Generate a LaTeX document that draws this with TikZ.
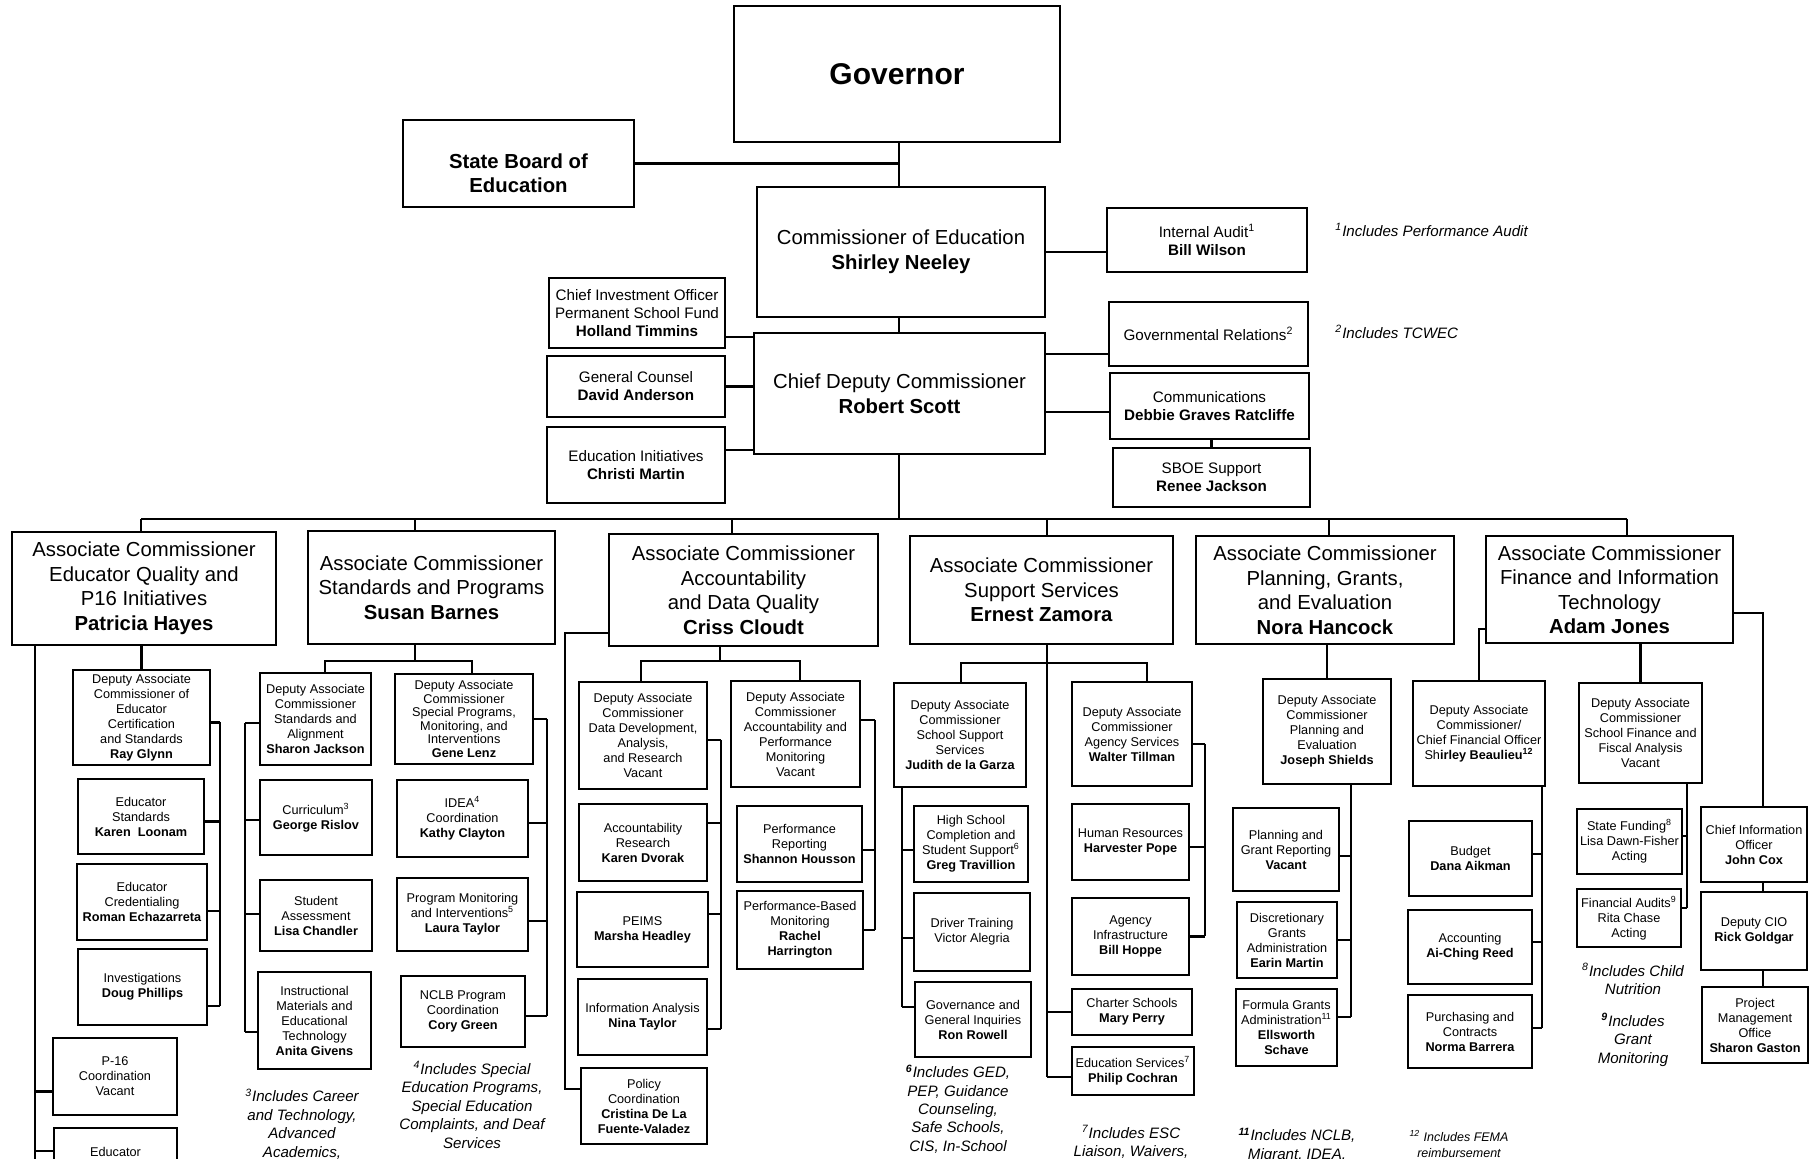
\documentclass[tikz,border=0pt]{standalone}
\usepackage{fontspec}
\setmainfont{Liberation Sans}
\usetikzlibrary{calc}
\tikzset{box/.style={draw, line width=1.1pt, inner sep=1pt, align=center}}
\tikzset{conn/.style={line width=1.1pt}}
\tikzset{govtxt/.style={font=\fontsize{15}{18}\selectfont\bfseries}}
\tikzset{head/.style={font=\fontsize{10.15}{12.25}\selectfont}}
\tikzset{topsm/.style={font=\fontsize{7.6}{9}\selectfont}}
\tikzset{sub/.style={font=\fontsize{6.35}{7.5}\selectfont}}
\tikzset{subt/.style={font=\fontsize{6.35}{6.8}\selectfont}}
\tikzset{note/.style={font=\fontsize{7.55}{9.2}\selectfont\itshape, align=center, inner sep=0pt}}
\tikzset{smallnote/.style={note, font=\fontsize{6.25}{7.6}\selectfont\itshape}}
% box from its corners in pixels: [style]{name}{x1}{y1}{x2}{y2}{text}
\newcommand{\orgbox}[7][sub]{%
  \node[box, #1, minimum width={(#5-#3)*0.5pt}, minimum height={(#6-#4)*0.5pt}]
    (#2) at ({(#3+#5)/2},{(#4+#6)/2}) {#7};}

\begin{document}
\begin{tikzpicture}[x=0.5pt, y=-0.5pt]
  \useasboundingbox (0,0) rectangle (1810,1159);
  \clip (0,0) rectangle (1810,1159);
  \fill[white] (0,0) rectangle (1810,1159);

  % Top
  \orgbox[govtxt]{gov}{734}{6}{1060}{142}{Governor}
  \orgbox[head]{sboe}{403}{120}{634}{207}{\rule{0pt}{16.9pt}\textbf{State Board of}\\\textbf{Education}}
  \orgbox[head]{comm}{757}{187}{1045}{317}{Commissioner of Education\\\textbf{Shirley Neeley}}
  \orgbox[topsm]{audit}{1107}{208}{1307}{272}{Internal Audit\textsuperscript{1}\\\textbf{Bill Wilson}}
  \orgbox[head]{cdc}{754}{333}{1045}{454}{Chief Deputy Commissioner\\\textbf{Robert Scott}}
  \orgbox[topsm]{cio}{549}{278}{725}{348}{Chief Investment Officer\\Permanent School Fund\\\textbf{Holland Timmins}}
  \orgbox[topsm]{counsel}{547}{356}{725}{417}{General Counsel\\\textbf{David Anderson}}
  \orgbox[topsm]{edinit}{547}{427}{725}{503}{Education Initiatives\\\textbf{Christi Martin}}
  \orgbox[topsm]{govrel}{1109}{302}{1308}{366}{Governmental Relations\textsuperscript{2}}
  \orgbox[topsm]{comms}{1110}{373}{1309}{439}{Communications\\\textbf{Debbie Graves Ratcliffe}}
  \orgbox[topsm]{sboesup}{1113}{448}{1310}{507}{SBOE Support\\\textbf{Renee Jackson}}
  \node[note, anchor=west] (fn1) at (1335,230) {\textsuperscript{1}Includes Performance Audit};
  \node[note, anchor=west] (fn2) at (1335,332) {\textsuperscript{2}Includes TCWEC};

  % Associate commissioners
  \orgbox[head]{ac1}{12}{532}{276}{645}{Associate Commissioner\\Educator Quality and\\P16 Initiatives\\\textbf{Patricia Hayes}}
  \orgbox[head]{ac2}{308}{531}{555}{644}{Associate Commissioner\\Standards and Programs\\\textbf{Susan Barnes}}
  \orgbox[head]{ac3}{609}{534}{878}{646}{Associate Commissioner\\Accountability\\and Data Quality\\\textbf{Criss Cloudt}}
  \orgbox[head]{ac4}{910}{536}{1173}{644}{Associate Commissioner\\Support Services\\\textbf{Ernest Zamora}}
  \orgbox[head]{ac5}{1196}{536}{1454}{644}{Associate Commissioner\\Planning, Grants,\\and Evaluation\\\textbf{Nora Hancock}}
  \orgbox[head]{ac6}{1486}{536}{1733}{643}{Associate Commissioner\\Finance and Information\\Technology\\\textbf{Adam Jones}}

  % Educator quality
  \orgbox{d1}{73}{670}{210}{765}{Deputy Associate\\Commissioner of\\Educator\\Certification\\and Standards\\\textbf{Ray Glynn}}
  \orgbox{s1a}{78}{779}{204}{854}{Educator\\Standards\\\textbf{Karen\ \ Loonam}}
  \orgbox{s1b}{77}{864}{207}{940}{Educator\\Credentialing\\\textbf{Roman Echazarreta}}
  \orgbox{s1c}{78}{949}{207}{1025}{Investigations\\\textbf{Doug Phillips}}
  \orgbox{s1d}{53}{1038}{177}{1115}{P-16\\Coordination\\Vacant}
  \orgbox{s1e}{54}{1128}{177}{1176}{Educator}
  \node[note] (fn3) at (302,1124) {\textsuperscript{3}Includes Career\\and Technology,\\Advanced\\Academics,};

  % Standards and programs
  \orgbox{d2a}{260}{673}{371}{765}{Deputy Associate\\Commissioner\\Standards and\\Alignment\\\textbf{Sharon Jackson}}
  \orgbox[subt]{d2b}{395}{674}{533}{764}{Deputy Associate\\Commissioner\\Special Programs,\\Monitoring, and\\Interventions\\\textbf{Gene Lenz}}
  \orgbox{s2a}{260}{780}{372}{855}{Curriculum\textsuperscript{3}\\\textbf{George Rislov}}
  \orgbox{s2b}{260}{880}{372}{951}{Student\\Assessment\\\textbf{Lisa Chandler}}
  \orgbox{s2c}{258}{972}{371}{1069}{Instructional\\Materials and\\Educational\\Technology\\\textbf{Anita Givens}}
  \orgbox{s2d}{397}{780}{528}{857}{IDEA\textsuperscript{4}\\Coordination\\\textbf{Kathy Clayton}}
  \orgbox{s2e}{397}{878}{528}{951}{Program Monitoring\\and Interventions\textsuperscript{5}\\\textbf{Laura Taylor}}
  \orgbox{s2f}{401}{976}{525}{1047}{NCLB Program\\Coordination\\\textbf{Cory Green}}
  \node[note] (fn4) at (472,1105) {\textsuperscript{4}Includes Special\\Education Programs,\\Special Education\\Complaints, and Deaf\\Services};

  % Accountability
  \orgbox{d3a}{579}{682}{707}{789}{Deputy Associate\\Commissioner\\Data Development,\\Analysis,\\and Research\\Vacant}
  \orgbox{d3b}{731}{681}{860}{787}{Deputy Associate\\Commissioner\\Accountability and\\Performance\\Monitoring\\Vacant}
  \orgbox{s3a}{579}{804}{707}{881}{Accountability\\Research\\\textbf{Karen Dvorak}}
  \orgbox{s3b}{577}{892}{708}{967}{PEIMS\\\textbf{Marsha Headley}}
  \orgbox{s3c}{578}{979}{707}{1055}{Information Analysis\\\textbf{Nina Taylor}}
  \orgbox{s3d}{581}{1068}{707}{1144}{Policy\\Coordination\\\textbf{Cristina De La}\\\textbf{Fuente-Valadez}}
  \orgbox{s3e}{737}{806}{862}{882}{Performance\\Reporting\\\textbf{Shannon Housson}}
  \orgbox{s3f}{737}{891}{863}{969}{Performance-Based\\Monitoring\\\textbf{Rachel}\\\textbf{Harrington}}

  % Support services
  \orgbox{d4a}{894}{683}{1026}{787}{Deputy Associate\\Commissioner\\School Support\\Services\\\textbf{Judith de la Garza}}
  \orgbox{d4b}{1072}{682}{1192}{786}{Deputy Associate\\Commissioner\\Agency Services\\\textbf{Walter Tillman}}
  \orgbox{s4a}{914}{806}{1028}{882}{High School\\Completion and\\Student Support\textsuperscript{6}\\\textbf{Greg Travillion}}
  \orgbox{s4b}{914}{893}{1030}{971}{Driver Training\\Victor Alegria}
  \orgbox{s4c}{915}{982}{1031}{1057}{Governance and\\General Inquiries\\\textbf{Ron Rowell}}
  \orgbox{s4d}{1072}{804}{1189}{880}{Human Resources\\\textbf{Harvester Pope}}
  \orgbox{s4e}{1072}{898}{1189}{975}{Agency\\Infrastructure\\\textbf{Bill Hoppe}}
  \orgbox{s4f}{1072}{989}{1192}{1035}{Charter Schools\\\textbf{Mary Perry}}
  \orgbox{s4g}{1072}{1047}{1194}{1095}{Education Services\textsuperscript{7}\\\textbf{Philip Cochran}}
  \node[note] (fn6) at (958,1109) {\textbf{\textsuperscript{6}}Includes GED,\\PEP, Guidance\\Counseling,\\Safe Schools,\\CIS, In-School};
  \node[note] (fn7) at (1131,1142) {\textsuperscript{7}Includes ESC\\Liaison, Waivers,};

  % Planning and grants
  \orgbox{d5}{1263}{679}{1391}{784}{Deputy Associate\\Commissioner\\Planning and\\Evaluation\\\textbf{Joseph Shields}}
  \orgbox{s5a}{1233}{808}{1339}{891}{Planning and\\Grant Reporting\\\textbf{Vacant}}
  \orgbox{s5b}{1237}{902}{1337}{978}{Discretionary\\Grants\\Administration\\\textbf{Earin Martin}}
  \orgbox{s5c}{1236}{989}{1337}{1066}{Formula Grants\\Administration\textsuperscript{11}\\\textbf{Ellsworth}\\\textbf{Schave}}
  \node[note] (fn11) at (1297,1145) {\textbf{\textsuperscript{11}}Includes NCLB,\\Migrant, IDEA,};
  \node[smallnote] (fn12) at (1459,1144) {\textsuperscript{12} Includes FEMA\\reimbursement};

  % Finance and IT
  \orgbox{d6a}{1413}{681}{1545}{786}{Deputy Associate\\Commissioner/\\Chief Financial Officer\\Sh\textbf{irley Beaulieu\textsuperscript{12}}}
  \orgbox{s6a}{1409}{821}{1532}{896}{Budget\\\textbf{Dana Aikman}}
  \orgbox{s6b}{1408}{910}{1532}{984}{Accounting\\\textbf{Ai-Ching Reed}}
  \orgbox{s6c}{1408}{995}{1532}{1068}{Purchasing and\\Contracts\\\textbf{Norma Barrera}}
  \orgbox{d6b}{1579}{683}{1702}{783}{Deputy Associate\\Commissioner\\School Finance and\\Fiscal Analysis\\Vacant}
  \orgbox{s6d}{1577}{809}{1682}{874}{State Funding\textsuperscript{8}\\Lisa Dawn-Fisher\\Acting}
  \orgbox{s6e}{1577}{889}{1681}{947}{Financial Audits\textsuperscript{9}\\Rita Chase\\Acting}
  \node[note] (fn8) at (1633,979) {\textsuperscript{8}Includes Child\\Nutrition};
  \node[note] (fn9) at (1633,1040) {\textbf{\textsuperscript{9}}Includes\\Grant\\Monitoring};
  \orgbox{s6f}{1701}{807}{1807}{882}{Chief Information\\Officer\\\textbf{John Cox}}
  \orgbox{s6g}{1701}{892}{1807}{970}{Deputy CIO\\\textbf{Rick Goldgar}}
  \orgbox{s6h}{1702}{987}{1808}{1063}{Project\\Management\\Office\\\textbf{Sharon Gaston}}

  % Spine and bus
  \coordinate (bus) at (899,519);
  \draw[conn] (gov.south -| bus) -- (comm.north -| bus);
  \draw[conn] (comm.south -| bus) -- (cdc.north -| bus);
  \draw[conn] (cdc.south -| bus) -- (bus);
  \draw[conn] (sboe.east) -- (sboe.east -| bus);
  \draw[conn] (comm.east) -- (comm.east -| audit.west);
  \foreach \b/\dy in {cio/24, counsel/0, edinit/-15} {
    \coordinate (tk) at ($(\b.east)+(0,\dy)$);
    \draw[conn] (tk) -- (tk -| cdc.west);
  }
  \foreach \b/\dy in {govrel/20, comms/6} {
    \coordinate (tk) at ($(\b.west)+(0,\dy)$);
    \draw[conn] (tk) -- (tk -| cdc.east);
  }
  \draw[conn] (sboesup.north) -- (sboesup.north |- comms.south);
  \foreach \n/\x in {1/141, 2/415, 3/732, 4/1047, 5/1329, 6/1627} {
    \coordinate (top\n) at (\x,519);
    \draw[conn] (top\n) -- (top\n |- ac\n.north);
  }
  \draw[conn] (top1) -- (top6);

  % Educator quality links
  \draw[conn] (d1.north) -- (d1.north |- ac1.south);
  \draw[conn] (220,722) coordinate (br1) -- (220,1006);
  \foreach \b/\dy in {d1/5, s1a/5, s1b/9, s1c/19} {
    \coordinate (tk) at ($(\b.east)+(0,\dy)$);
    \draw[conn] (tk) -- (tk -| br1);
  }
  \coordinate (lf1) at (35,1170);
  \draw[conn] (lf1 |- ac1.south) -- (lf1);
  \foreach \b/\dy in {s1d/15, s1e/-1} {
    \coordinate (tk) at ($(\b.west)+(0,\dy)$);
    \draw[conn] (tk) -- (tk -| lf1);
  }

  % Standards links
  \coordinate (h2) at (415,661);
  \coordinate (h2l) at (325,661);
  \coordinate (h2r) at (472,661);
  \draw[conn] (h2 |- ac2.south) -- (h2);
  \draw[conn] (h2l |- d2a.north) -- (h2l) -- (h2r) -- (h2r |- d2b.north);
  \draw[conn] (245,723) coordinate (br2) -- (245,1032);
  \foreach \b/\dy in {d2a/4, s2a/2.5, s2b/-1.5, s2c/11.5} {
    \coordinate (tk) at ($(\b.west)+(0,\dy)$);
    \draw[conn] (tk) -- (tk -| br2);
  }
  \draw[conn] (547,719) coordinate (br3) -- (547,1016);
  \foreach \b/\dy in {d2b/0, s2d/4.5, s2e/6.5, s2f/4.5} {
    \coordinate (tk) at ($(\b.east)+(0,\dy)$);
    \draw[conn] (tk) -- (tk -| br3);
  }

  % Accountability links
  \coordinate (lf3) at (565,633);
  \draw[conn] (lf3 -| ac3.west) -- (lf3) |- ($(s3d.west)+(0,-17)$);
  \coordinate (h3) at (720,661);
  \coordinate (h3l) at (641,661);
  \coordinate (h3r) at (800,661);
  \draw[conn] (h3 |- ac3.south) -- (h3);
  \draw[conn] (h3l |- d3a.north) -- (h3l) -- (h3r) -- (h3r |- d3b.north);
  \draw[conn] (721,740) coordinate (br4) -- (721,1029);
  \foreach \b/\dy in {d3a/4.5, s3a/-19.5, s3b/-15.5, s3c/12} {
    \coordinate (tk) at ($(\b.east)+(0,\dy)$);
    \draw[conn] (tk) -- (tk -| br4);
  }
  \draw[conn] (875,720) coordinate (br5) -- (875,930);
  \foreach \b/\dy in {d3b/-14, s3e/6, s3f/0} {
    \coordinate (tk) at ($(\b.east)+(0,\dy)$);
    \draw[conn] (tk) -- (tk -| br5);
  }

  % Support services links
  \coordinate (sp4) at (1047,1077);
  \draw[conn] (sp4 |- ac4.south) -- (sp4);
  \coordinate (h4l) at (961,663);
  \coordinate (h4r) at (1147,663);
  \draw[conn] (h4l |- d4a.north) -- (h4l) -- (h4r) -- (h4r |- d4b.north);
  \draw[conn] (902,1007) coordinate (lf4) -- (lf4 |- d4a.south);
  \foreach \b/\dy in {s4a/6, s4b/6, s4c/-12.5} {
    \coordinate (tk) at ($(\b.west)+(0,\dy)$);
    \draw[conn] (tk) -- (tk -| lf4);
  }
  \draw[conn] (1205,744) coordinate (br6) -- (1205,936);
  \foreach \b/\dy in {d4b/10, s4d/5, s4e/0} {
    \coordinate (tk) at ($(\b.east)+(0,\dy)$);
    \draw[conn] (tk) -- (tk -| br6);
  }
  \foreach \b/\dy in {s4f/0, s4g/6} {
    \coordinate (tk) at ($(\b.west)+(0,\dy)$);
    \draw[conn] (tk) -- (tk -| sp4);
  }

  % Planning links
  \draw[conn] (d5.north) -- (d5.north |- ac5.south);
  \draw[conn] (1351,1017) coordinate (br7) -- (br7 |- d5.south);
  \foreach \b/\dy in {s5a/6.5, s5b/0, s5c/-10.5} {
    \coordinate (tk) at ($(\b.east)+(0,\dy)$);
    \draw[conn] (tk) -- (tk -| br7);
  }

  % Finance links
  \draw[conn] (d6a.north) |- ($(ac6.west)+(0,39.5)$);
  \draw[conn] (1542,1028) coordinate (br8) -- (br8 |- d6a.south);
  \foreach \b/\dy in {s6a/-4.5, s6b/-5, s6c/-3.5} {
    \coordinate (tk) at ($(\b.east)+(0,\dy)$);
    \draw[conn] (tk) -- (tk -| br8);
  }
  \draw[conn] (d6b.north) -- (d6b.north |- ac6.south);
  \draw[conn] (1687,908) coordinate (br9) -- (br9 |- d6b.south);
  \foreach \b/\dy in {s6d/-5.5, s6e/-10} {
    \coordinate (tk) at ($(\b.east)+(0,\dy)$);
    \draw[conn] (tk) -- (tk -| br9);
  }
  \coordinate (rt6) at (1763,613);
  \draw[conn] (rt6 -| ac6.east) -- (rt6) -- (rt6 |- s6f.north);
  \draw[conn] (rt6 |- s6f.south) -- (rt6 |- s6g.north);
  \draw[conn] (rt6 |- s6g.south) -- (rt6 |- s6h.north);
\end{tikzpicture}
\end{document}
